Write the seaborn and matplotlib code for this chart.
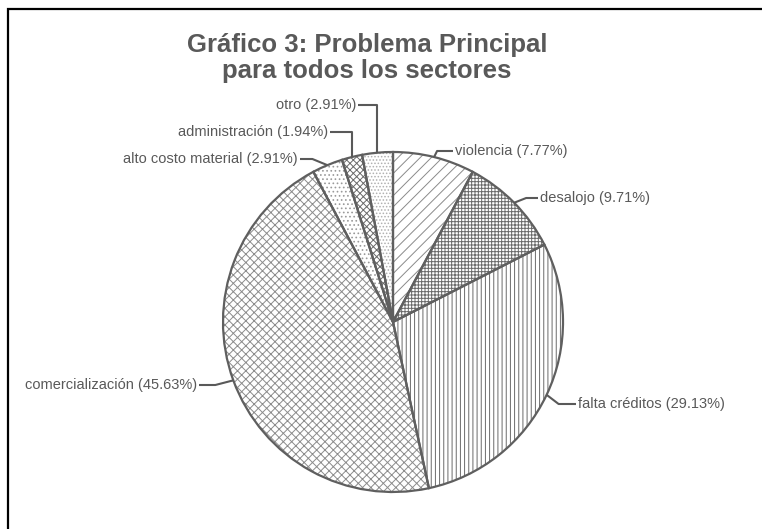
import numpy as np
import matplotlib
matplotlib.use("Agg")
import matplotlib.pyplot as plt
import seaborn as sns
from matplotlib.patches import Rectangle

# data
categorias = ["violencia", "desalojo", "falta créditos", "comercialización",
              "alto costo material", "administración", "otro"]
porcentajes = [7.77, 9.71, 29.13, 45.63, 2.91, 1.94, 2.91]
titulo = "Gráfico 3: Problema Principal\npara todos los sectores"

# style per slice
tramas = ["///", "+++++", "||||", "xxxx", "....", "xxxxx", "....."]
colores_trama = ["#8a8a8a", "#6a6a6a", "#6a6a6a", "#8c8c8c", "#9a9a9a", "#6a6a6a", "#b0b0b0"]

sns.set_theme(style="white")
plt.rcParams["font.family"] = ["Liberation Sans", "DejaVu Sans"]
plt.rcParams["hatch.linewidth"] = 0.7

W, H = 762, 529
fig = plt.figure(figsize=(W / 100, H / 100), dpi=100)
ax = fig.add_axes([0, 0, 1, 1])

# pie layout in pixels (top-down y converted)
cx, cy, r = 393, 322, 170
centro = (cx, H - cy)

ax.pie(porcentajes, startangle=90, counterclock=False, radius=r, center=centro,
       colors=["white"] * len(porcentajes),
       hatch=tramas, wedgeprops=dict(linewidth=0))
for w, c in zip(ax.patches, colores_trama):
    w.set_edgecolor(c)
ax.pie(porcentajes, startangle=90, counterclock=False, radius=r, center=centro,
       colors=["none"] * len(porcentajes),
       wedgeprops=dict(linewidth=1.6, edgecolor="#5f5f5f", fill=False))

ax.set_xlim(0, W)
ax.set_ylim(0, H)
ax.set_aspect("auto")
ax.axis("off")

# labels with leader lines: (text x, text y, side) in pixels
pos_etiquetas = [(455, 151, "left"), (540, 198, "left"), (578, 404, "left"),
                 (197, 385, "right"), (298, 159, "right"), (328, 132, "right"),
                 (356, 105, "right")]
codo = [3, 12, 12, -18, -15, 22, 21]

gris = "#595959"
acum = np.cumsum([0] + porcentajes[:-1])
for i, (cat, p) in enumerate(zip(categorias, porcentajes)):
    ang = np.deg2rad(90 - (acum[i] + p / 2) * 3.6)
    ex, ey = cx + r * np.cos(ang), cy - r * np.sin(ang)
    tx, ty, lado = pos_etiquetas[i]
    if lado == "left":
        kx = ex + codo[i]
        xs = [ex, kx, tx - 2]
    else:
        kx = ex + (codo[i] if codo[i] < 0 else 0)
        xs = [ex, kx, tx + 2]
    ys = [H - ey, H - ty, H - ty]
    ax.plot(xs, ys, color=gris, lw=1.5, solid_capstyle="butt")
    ax.text(tx, H - ty, f"{cat} ({p:.2f}%)", ha=lado, va="center",
            fontsize=10.5, color=gris)

ax.text(367, H - 58, titulo, ha="center", va="center", fontsize=18.5,
        fontweight="bold", color=gris, linespacing=1.15)

# chart area border (clipped at right and bottom)
ax.add_patch(Rectangle((8, -20), 900, H - 9 + 20, fill=False,
                       edgecolor="black", lw=1.6, clip_on=False))

fig.savefig("out.png", dpi=100)
